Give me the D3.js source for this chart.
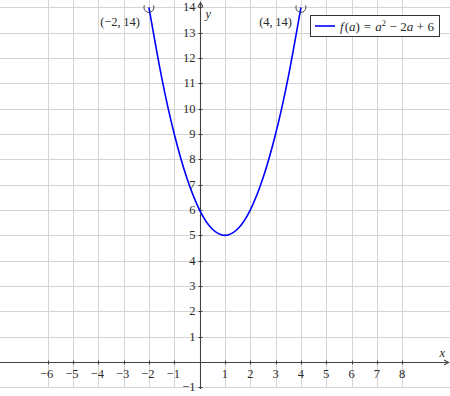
<!DOCTYPE html>
<html>
<head>
<meta charset="utf-8">
<script src="https://cdn.jsdelivr.net/npm/d3@7"></script>
<style>
  body { margin: 0; background: #fff; }
  text { font-family: "Liberation Serif", "DejaVu Serif", serif; fill: #2a2a2a; }
</style>
</head>
<body>
<script>
const width = 450
const height = 396

// tick values
const xTicks = [-6, -5, -4, -3, -2, -1, 1, 2, 3, 4, 5, 6, 7, 8]
const yTicks = [-1, 1, 2, 3, 4, 5, 6, 7, 8, 9, 10, 11, 12, 13, 14]
const xGrid = [-6, -5, -4, -3, -2, -1, 0, 1, 2, 3, 4, 5, 6, 7, 8]
const yGrid = [-1, 0, 1, 2, 3, 4, 5, 6, 7, 8, 9, 10, 11, 12, 13, 14]

// points on the curve f(a) = a^2 - 2a + 6
const curveA = [-2, -1.5, -1, -0.5, 0, 0.5, 1, 1.5, 2, 2.5, 3, 3.5, 4]
const curveF = [14, 11.25, 9, 7.25, 6, 5.25, 5, 5.25, 6, 7.25, 9, 11.25, 14]

// open end points and their labels
const endPoints = [[-2, 14], [4, 14]]
const endLabels = ["(−2,\u200914)", "(4,\u200914)"]

const svg = d3.select("body").append("svg").attr("width", width).attr("height", height)

const x = d3.scaleLinear().domain([-7.88, 9.886]).range([0, width])
const y = d3.scaleLinear().domain([-1.343, 14.292]).range([height, 0])

// grid
const grid = svg.append("g").style("stroke", "#d4d4d4").style("stroke-width", 1)
yGrid.forEach(t => {
  grid.append("line").attr("x1", 0).attr("x2", width)
    .attr("y1", Math.round(y(t)) + 0.5).attr("y2", Math.round(y(t)) + 0.5)
})
xGrid.forEach(t => {
  grid.append("line").attr("y1", 0).attr("y2", Math.round(y(-1)) + 0.5)
    .attr("x1", Math.round(x(t)) + 0.5).attr("x2", Math.round(x(t)) + 0.5)
})

// axes
const x0 = Math.round(x(0)) + 0.5
const y0 = Math.round(y(0)) + 0.5
const axes = svg.append("g").style("stroke", "#444").style("stroke-width", 1.1).style("fill", "none")
axes.append("line").attr("x1", 0).attr("x2", width - 2).attr("y1", y0).attr("y2", y0)
axes.append("line").attr("x1", x0).attr("x2", x0).attr("y1", Math.round(y(-1)) + 2).attr("y2", 3)
axes.append("path").attr("d", `M${width - 6},${y0 - 2.5} L${width - 1.5},${y0} L${width - 6},${y0 + 2.5}`)
axes.append("path").attr("d", `M${x0 - 2.5},7 L${x0},2.5 L${x0 + 2.5},7`)

xTicks.forEach(t => {
  axes.append("line").attr("x1", Math.round(x(t)) + 0.5).attr("x2", Math.round(x(t)) + 0.5)
    .attr("y1", y0 - 2).attr("y2", y0 + 2)
  svg.append("text").text(t < 0 ? "−" + Math.abs(t) : t)
    .attr("x", x(t) + (t < 0 ? -1 : 0)).attr("y", y0 + 15)
    .attr("text-anchor", "middle").style("font-size", "12.5px")
})
yTicks.forEach(t => {
  axes.append("line").attr("y1", Math.round(y(t)) + 0.5).attr("y2", Math.round(y(t)) + 0.5)
    .attr("x1", x0 - 2).attr("x2", x0 + 2)
  svg.append("text").text(t < 0 ? "−" + Math.abs(t) : t)
    .attr("x", x0 - 5).attr("y", y(t) + 4)
    .attr("text-anchor", "end").style("font-size", "12.5px")
})

svg.append("text").text("x").attr("x", x0 + 239).attr("y", y0 - 6)
  .style("font-size", "12.5px").style("font-style", "italic")
svg.append("text").text("y").attr("x", x0 + 5).attr("y", 18)
  .style("font-size", "12.5px").style("font-style", "italic")

// curve
const pts = curveA.map((a, i) => [a, curveF[i]])
const line = d3.line().x(d => x(d[0])).y(d => y(d[1])).curve(d3.curveNatural)
svg.append("path").attr("d", line(pts))
  .style("fill", "none").style("stroke", "#0000ff").style("stroke-width", 1.6)

// open circles, cut at the top of the plot
svg.append("clipPath").attr("id", "top").append("rect")
  .attr("x", 0).attr("y", y(14.08)).attr("width", width).attr("height", height)
const circles = svg.append("g").attr("clip-path", "url(#top)")
endPoints.forEach((p, i) => {
  circles.append("circle").attr("cx", x(p[0])).attr("cy", y(p[1])).attr("r", 5)
    .style("fill", "none").style("stroke", "#333").style("stroke-width", 0.9)
  svg.append("text").text(endLabels[i]).attr("x", x(p[0]) - 9).attr("y", y(p[1]) + 19)
    .attr("text-anchor", "end").style("font-size", "12.5px")
})

// legend
const legend = svg.append("g")
legend.append("rect").attr("x", 310.5).attr("y", 15.5).attr("width", 129).attr("height", 21)
  .style("fill", "#fff").style("stroke", "#333").style("stroke-width", 1)
legend.append("line").attr("x1", 315).attr("x2", 335).attr("y1", 26).attr("y2", 26)
  .style("stroke", "#0000ff").style("stroke-width", 1.6)
const lt = legend.append("text").attr("x", 340).attr("y", 30.5).style("font-size", "13px")
lt.append("tspan").text("f").style("font-style", "italic")
lt.append("tspan").text("(").attr("dx", 1)
lt.append("tspan").text("a").style("font-style", "italic")
lt.append("tspan").text(")")
lt.append("tspan").text("=").attr("dx", 4)
lt.append("tspan").text("a").attr("dx", 4).style("font-style", "italic")
lt.append("tspan").text("2").attr("dy", -5).style("font-size", "8.5px")
lt.append("tspan").text("−").attr("dy", 5).attr("dx", 3.5)
lt.append("tspan").text("2").attr("dx", 3.5)
lt.append("tspan").text("a").style("font-style", "italic")
lt.append("tspan").text("+").attr("dx", 3.5)
lt.append("tspan").text("6").attr("dx", 3.5)
</script>
</body>
</html>
